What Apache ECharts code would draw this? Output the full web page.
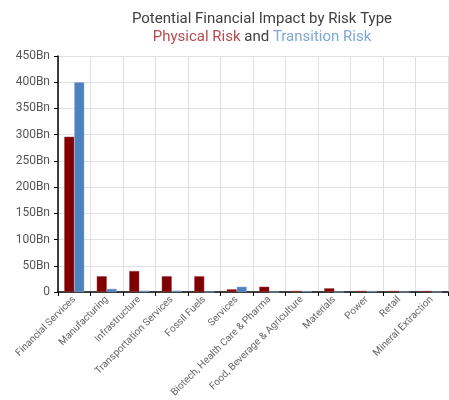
<!DOCTYPE html>
<html><head><meta charset="utf-8">
<script src="https://cdn.jsdelivr.net/npm/echarts@6/dist/echarts.min.js"></script>
<style>html,body{margin:0;padding:0;background:#fff}#c{width:449px;height:400px}</style>
</head><body><div id="c"></div>
<script>
const categories = ["Financial Services","Manufacturing","Infrastructure","Transportation Services","Fossil Fuels","Services","Biotech, Health Care & Pharma","Food, Beverage & Agriculture","Materials","Power","Retail","Mineral Extraction"];
const physicalRisk = [296, 30, 40, 30, 30, 5, 10, 2, 7, 2, 2, 2];
const transitionRisk = [400, 6, 2.5, 2.5, 0, 10, 0, 2, 0, 2, 0, 0];
const yTicks = {min: 0, max: 450, interval: 50};

const chart = echarts.init(document.getElementById('c'));
chart.setOption({
  animation: false,
  textStyle: {fontFamily: 'Roboto'},
  title: {
    text: 'Potential Financial Impact by Risk Type',
    subtext: '{p|Physical Risk} {a|and} {t|Transition Risk}',
    left: 257, top: 7, textAlign: 'center', itemGap: 3,
    textStyle: {fontSize: 15, fontWeight: 'normal', color: '#404040', fontFamily: 'Roboto'},
    subtextStyle: {fontSize: 15, fontFamily: 'Roboto', rich: {
      p: {color: '#b84a4e', fontSize: 15, fontFamily: 'Roboto'},
      a: {color: '#404040', fontSize: 15, fontFamily: 'Roboto'},
      t: {color: '#7fa6d8', fontSize: 15, fontFamily: 'Roboto'}
    }}
  },
  grid: {left: 58, right: 1, top: 56, bottom: 108, containLabel: false},
  xAxis: {
    type: 'category', data: categories,
    axisLine: {lineStyle: {color: '#000', width: 1.5}},
    axisTick: {show: true, alignWithLabel: false, length: 4, lineStyle: {color: '#000'}},
    splitLine: {show: true, lineStyle: {color: '#e0e0e0'}},
    axisLabel: {rotate: 45, interval: 0, fontSize: 10, color: '#666', margin: 6}
  },
  yAxis: {
    type: 'value', min: yTicks.min, max: yTicks.max, interval: yTicks.interval,
    axisLine: {show: true, lineStyle: {color: '#000', width: 1.5}},
    axisTick: {show: true, length: 4, lineStyle: {color: '#000'}},
    splitLine: {show: true, lineStyle: {color: '#e0e0e0'}},
    axisLabel: {fontSize: 12, color: '#555', margin: 8,
      formatter: v => v === 0 ? '0' : v + 'Bn'}
  },
  series: [
    {name: 'Physical Risk', type: 'bar', data: physicalRisk, barWidth: 10, barGap: '0%',
     itemStyle: {color: '#800000', borderColor: '#a04040', borderWidth: 0.5}},
    {name: 'Transition Risk', type: 'bar', data: transitionRisk, barWidth: 10,
     itemStyle: {color: '#4f81bd', borderColor: '#8fb0e0', borderWidth: 0.5}}
  ]
});
</script></body></html>
